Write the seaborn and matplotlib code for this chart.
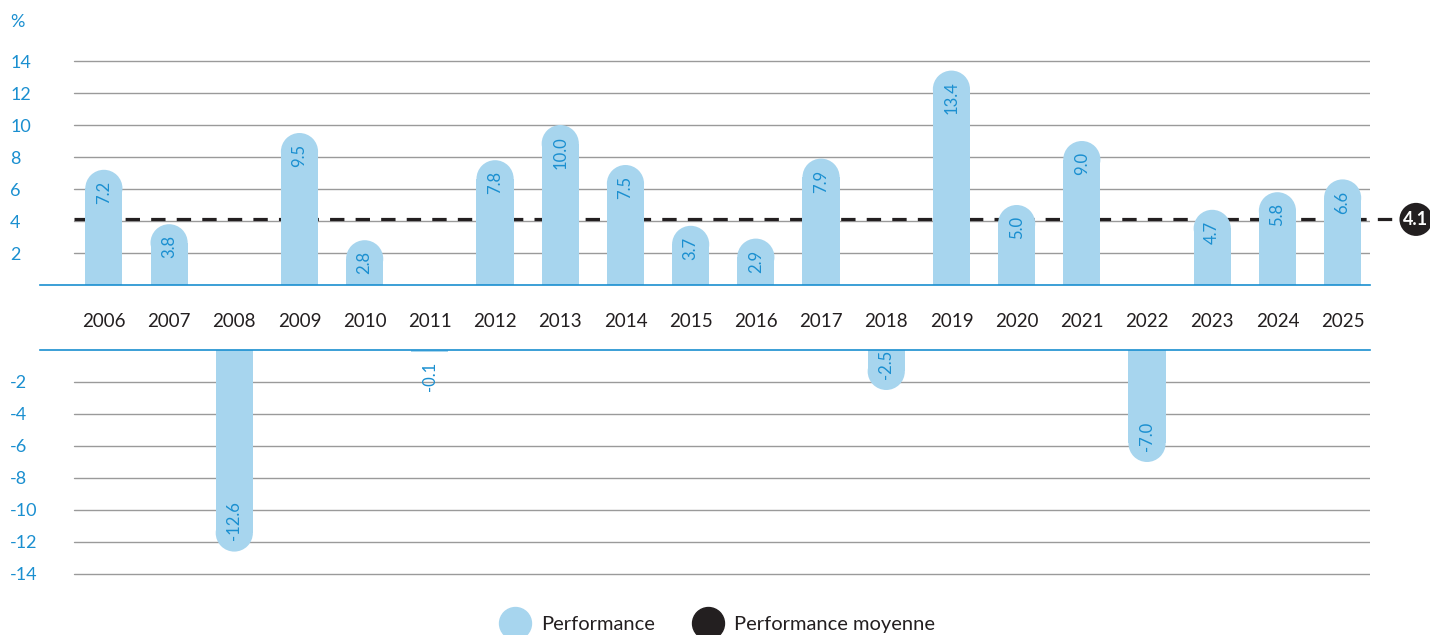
import seaborn as sns
import matplotlib.pyplot as plt
from matplotlib.patches import Ellipse
from matplotlib.lines import Line2D
import matplotlib.transforms as mtransforms

# Données
annees = ['2006', '2007', '2008', '2009', '2010', '2011', '2012', '2013', '2014', '2015',
          '2016', '2017', '2018', '2019', '2020', '2021', '2022', '2023', '2024', '2025']
performance = [7.2, 3.8, -12.6, 9.5, 2.8, -0.1, 7.8, 10.0, 7.5, 3.7,
               2.9, 7.9, -2.5, 13.4, 5.0, 9.0, -7.0, 4.7, 5.8, 6.6]
moyenne = 4.1
ticks_pos = [2, 4, 6, 8, 10, 12, 14]
ticks_neg = [-2, -4, -6, -8, -10, -12, -14]

BLEU_CLAIR = '#a7d5ee'
BLEU = '#1a8fd0'
NOIR = '#231f20'
GRIS = '#9a9a9a'

sns.set_style('white')
plt.rcParams['font.family'] = ['Lato', 'DejaVu Sans']

W, H = 1430, 635
fig = plt.figure(figsize=(W / 100, H / 100), dpi=100)

# axes positifs (haut) et négatifs (bas)
ax_h = fig.add_axes([40 / W, (H - 285) / H, 1330 / W, 232 / H])
ax_b = fig.add_axes([40 / W, (H - 582) / H, 1330 / W, 232 / H])

for ax in (ax_h, ax_b):
    sns.barplot(x=annees, y=performance, color=BLEU_CLAIR, saturation=1,
                width=0.57, linewidth=0, edgecolor='none', ax=ax, zorder=3)
    ax.set_xlim(-0.98, 19.42)
    ax.set_xlabel('')
    ax.set_ylabel('')
    for s in ax.spines.values():
        s.set_visible(False)
    ax.tick_params(axis='both', length=0)

ax_h.set_ylim(0, 14.5)
ax_b.set_ylim(-14.5, 0)

ax_h.spines['bottom'].set_visible(True)
ax_h.spines['bottom'].set_color(BLEU)
ax_h.spines['bottom'].set_linewidth(1.2)
ax_h.spines['bottom'].set_zorder(4)
ax_b.spines['top'].set_visible(True)
ax_b.spines['top'].set_color(BLEU)
ax_b.spines['top'].set_linewidth(1.2)
ax_b.spines['top'].set_zorder(4)

# grilles
gx0 = (74 - 40) / 1330
for t in ticks_pos:
    ax_h.axhline(t, xmin=gx0, xmax=1, color=GRIS, lw=1, zorder=1)
for t in ticks_neg:
    ax_b.axhline(t, xmin=gx0, xmax=1, color=GRIS, lw=1, zorder=1)

# ticks y
ax_h.set_yticks(ticks_pos)
ax_h.set_yticklabels([str(t) for t in ticks_pos])
ax_b.set_yticks(ticks_neg)
ax_b.set_yticklabels([str(t) for t in ticks_neg])
for ax in (ax_h, ax_b):
    ax.tick_params(axis='y', pad=21.5, labelsize=13, labelcolor=BLEU)
    for lab in ax.get_yticklabels():
        lab.set_horizontalalignment('left')

ax_h.tick_params(axis='x', pad=20, labelsize=13.5, labelcolor=NOIR)
ax_b.set_xticks([])

fig.text(10 / W, (H - 22) / H, '%', color=BLEU, fontsize=13, va='center', ha='left')

# barres arrondies
for ax in (ax_h, ax_b):
    px_x = 1330 / (19.42 + 0.98)
    px_y = 232 / 14.5
    for p in list(ax.patches):
        w = p.get_width()
        h = p.get_height()
        cx = p.get_x() + w / 2
        ry = (w / 2) * px_x / px_y
        if abs(h) < ry:
            continue
        if h > 0:
            p.set_height(h - ry)
            cy = h - ry
        else:
            p.set_height(h + ry)
            cy = h + ry
        ax.add_patch(Ellipse((cx, cy), w, 2 * ry, facecolor=BLEU_CLAIR,
                             edgecolor='none', linewidth=0, zorder=3))

# valeurs
for i, v in enumerate(performance):
    lab = f'{v:.1f}'
    if v > 0:
        ax_h.annotate(lab, (i, v), xytext=(0, -8), textcoords='offset points',
                      rotation=90, ha='center', va='top', color=BLEU,
                      fontsize=12, zorder=5)
    elif v > -1:
        ax_b.annotate(lab, (i, v), xytext=(0, -7), textcoords='offset points',
                      rotation=90, ha='center', va='top', color=BLEU,
                      fontsize=12, zorder=5)
    else:
        ax_b.annotate(lab, (i, v), xytext=(0, 8), textcoords='offset points',
                      rotation=90, ha='center', va='bottom', color=BLEU,
                      fontsize=12, zorder=5)

# performance moyenne
ax_h.axhline(moyenne, xmin=gx0, xmax=(1392 - 40) / 1330, color=NOIR, lw=2.3,
             ls=(0, (4.5, 3.5)), zorder=2, clip_on=False)
trans = mtransforms.blended_transform_factory(ax_h.transAxes, ax_h.transData)
ax_h.text((1416 - 40) / 1330, moyenne, f'{moyenne:.1f}', transform=trans,
          ha='center', va='center', color='white', fontsize=13, fontweight='bold',
          bbox=dict(boxstyle='circle,pad=0.22', fc=NOIR, ec='none'), clip_on=False)

# légende
handles = [Line2D([], [], marker='o', ls='', markersize=23, color=BLEU_CLAIR),
           Line2D([], [], marker='o', ls='', markersize=23, color=NOIR)]
fig.legend(handles, ['Performance', 'Performance moyenne'], loc='center',
           bbox_to_anchor=(0.5, 0.017), ncol=2, frameon=False, fontsize=14.5,
           handletextpad=0.3, columnspacing=1.6, labelcolor=NOIR)

fig.savefig('out.png', dpi=100)
